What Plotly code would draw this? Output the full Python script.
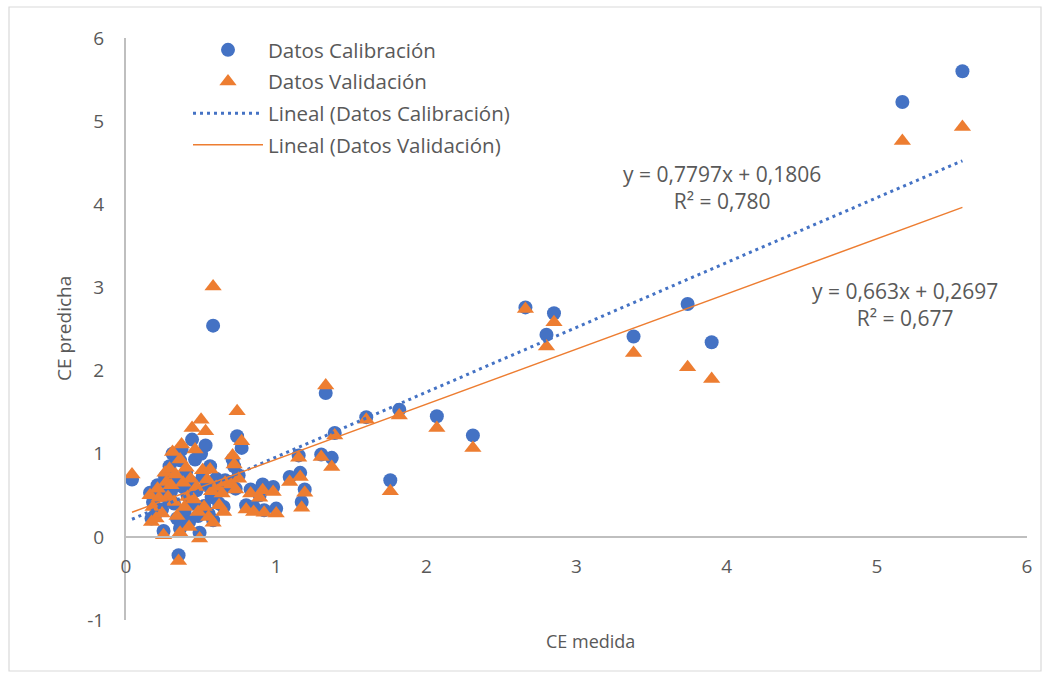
import plotly.graph_objects as go

# --- data -------------------------------------------------------------
# CE medida (shared by both series) with the calibration and validation predictions
ce_medida = [
    0.04, 0.16, 0.17, 0.18, 0.20, 0.21, 0.22, 0.24, 0.25, 0.26, 0.27, 0.28, 0.29,
    0.30, 0.31, 0.32, 0.33, 0.34, 0.35, 0.36, 0.36, 0.37, 0.38, 0.39, 0.40, 0.41,
    0.42, 0.43, 0.44, 0.45, 0.46, 0.47, 0.48, 0.49, 0.50, 0.51, 0.52, 0.53, 0.54,
    0.55, 0.56, 0.57, 0.58, 0.58, 0.60, 0.62, 0.64, 0.65, 0.66, 0.70, 0.71, 0.72,
    0.73, 0.74, 0.75, 0.77, 0.80, 0.83, 0.85, 0.89, 0.91, 0.92, 0.98, 1.00, 1.09,
    1.15, 1.16, 1.17, 1.19, 1.30, 1.33, 1.37, 1.39, 1.60, 1.76, 1.82, 2.07, 2.31,
    2.66, 2.80, 2.85, 3.38, 3.74, 3.90, 5.17, 5.57,
]
ce_pred_calibracion = [
    0.69, 0.53, 0.22, 0.42, 0.28, 0.62, 0.52, 0.33, 0.07, 0.72, 0.60, 0.46, 0.85,
    0.55, 1.00, 0.40, 0.70, 0.22, -0.22, 0.92, 0.10, 1.05, 0.60, 0.30, 0.78, 0.50,
    0.18, 0.66, 1.17, 0.40, 0.93, 0.56, 0.25, 0.05, 1.00, 0.72, 0.37, 1.10, 0.62,
    0.28, 0.85, 0.48, 0.20, 2.54, 0.70, 0.40, 0.56, 0.36, 0.68, 0.66, 0.93, 0.85,
    0.58, 1.21, 0.74, 1.07, 0.38, 0.57, 0.36, 0.50, 0.63, 0.32, 0.60, 0.34, 0.72,
    0.98, 0.77, 0.42, 0.57, 0.99, 1.73, 0.95, 1.25, 1.44, 0.68, 1.53, 1.45, 1.22,
    2.76, 2.43, 2.69, 2.41, 2.80, 2.34, 5.23, 5.60,
]
ce_pred_validacion = [
    0.75, 0.50, 0.18, 0.36, 0.22, 0.58, 0.47, 0.28, 0.02, 0.77, 0.66, 0.48, 0.82,
    0.62, 1.02, 0.42, 0.75, 0.25, -0.29, 0.93, 0.05, 1.11, 0.65, 0.36, 0.83, 0.48,
    0.12, 0.70, 1.31, 0.45, 1.05, 0.60, 0.30, -0.02, 1.41, 0.80, 0.36, 1.27, 0.69,
    0.24, 0.81, 0.55, 0.17, 3.01, 0.60, 0.38, 0.52, 0.30, 0.65, 0.63, 0.98, 0.87,
    0.57, 1.51, 0.70, 1.15, 0.33, 0.52, 0.30, 0.47, 0.56, 0.29, 0.54, 0.28, 0.66,
    0.95, 0.72, 0.35, 0.53, 0.96, 1.82, 0.84, 1.22, 1.41, 0.55, 1.46, 1.31, 1.07,
    2.74, 2.29, 2.58, 2.21, 2.04, 1.90, 4.76, 4.93,
]

# linear trendlines: (slope, intercept, R²)
fit_calibracion = (0.7797, 0.1806, 0.780)
fit_validacion = (0.663, 0.2697, 0.677)

x_ticks = [0, 1, 2, 3, 4, 5, 6]
y_ticks = [-1, 0, 1, 2, 3, 4, 5, 6]
y_tick_labels = ["-1", "0", "1", "2", "3", "4", "5", "6"]

# --- styling ----------------------------------------------------------
W, H = 1050, 679
ML, MR, MT, MB = 126, 23, 38, 59
BLUE = "#4472C4"
ORANGE = "#ED7D31"
TEXT = "#595959"
AXIS = "#BFBFBF"
FONT = "Open Sans"
FS_LEGEND = 20.5
FS_EQ = 21
FS_TICK = 19
FS_TITLE = 18

plot_w = W - ML - MR
plot_h = H - MT - MB


def px_to_paper_x(px):
    return (px - ML) / plot_w


def px_to_paper_y(py):
    return (H - MB - py) / plot_h


x_lo, x_hi = min(ce_medida), max(ce_medida)

fig = go.Figure()

fig.add_trace(go.Scatter(
    x=ce_medida, y=ce_pred_calibracion, mode="markers",
    name="Datos Calibración", legendgroup="a",
    marker=dict(symbol="circle", size=14, color=BLUE),
))
fig.add_trace(go.Scatter(
    x=ce_medida, y=ce_pred_validacion, mode="markers",
    name="Datos Validación", legendgroup="b",
    marker=dict(symbol="triangle-up", size=15, color=ORANGE),
))

m, b, _ = fit_calibracion
fig.add_trace(go.Scatter(
    x=[x_lo, x_hi], y=[m * x_lo + b, m * x_hi + b], mode="lines",
    name="Lineal (Datos Calibración)", legendgroup="c",
    line=dict(color=BLUE, width=3, dash="3px,4px"),
))
m, b, _ = fit_validacion
fig.add_trace(go.Scatter(
    x=[x_lo, x_hi], y=[m * x_lo + b, m * x_hi + b], mode="lines",
    name="Lineal (Datos Validación)", legendgroup="d",
    line=dict(color=ORANGE, width=1.5),
))

# trendline equations
for fit, (cx, cy) in ((fit_calibracion, (722, 188)), (fit_validacion, (905, 304))):
    slope, icpt, r2 = fit
    eq = f"y = {slope:g}x + {icpt:g}".replace(".", ",")
    r2t = f"R² = {r2:.3f}".replace(".", ",")
    fig.add_annotation(
        x=px_to_paper_x(cx), y=px_to_paper_y(cy), xref="paper", yref="paper",
        xanchor="center", yanchor="middle",
        text=f"{eq}<br>{r2t}", showarrow=False, align="center",
        font=dict(family=FONT, size=FS_EQ, color=TEXT),
    )

# axis titles
fig.add_annotation(
    x=px_to_paper_x(590), y=px_to_paper_y(641), xref="paper", yref="paper",
    xanchor="center", yanchor="middle",
    text="CE medida", showarrow=False,
    font=dict(family=FONT, size=FS_TITLE, color=TEXT),
)
fig.add_annotation(
    x=px_to_paper_x(64), y=px_to_paper_y(329), xref="paper", yref="paper",
    xanchor="center", yanchor="middle",
    text="CE predicha", showarrow=False, textangle=-90,
    font=dict(family=FONT, size=19, color=TEXT),
)

# chart frame
fig.add_shape(
    type="rect", xref="paper", yref="paper",
    x0=px_to_paper_x(9), x1=px_to_paper_x(1041),
    y0=px_to_paper_y(671), y1=px_to_paper_y(7),
    line=dict(color="#D9D9D9", width=1.2), fillcolor="rgba(0,0,0,0)", layer="below",
)

fig.update_layout(
    width=W, height=H,
    margin=dict(l=ML, r=MR, t=MT, b=MB, pad=0),
    paper_bgcolor="white", plot_bgcolor="white",
    font=dict(family=FONT, size=FS_LEGEND, color=TEXT),
    showlegend=True,
    legend=dict(
        x=px_to_paper_x(188), y=px_to_paper_y(30), xanchor="left", yanchor="top",
        bgcolor="rgba(0,0,0,0)", font=dict(family=FONT, size=FS_LEGEND, color=TEXT),
        traceorder="grouped", tracegroupgap=2, itemwidth=70,
    ),
    xaxis=dict(
        range=[0, 6], tickvals=x_ticks, showgrid=False, zeroline=False,
        showline=True, linecolor=AXIS, linewidth=2,
        anchor="free", position=1 / 7, ticks="", ticklabelstandoff=12,
        tickfont=dict(family=FONT, size=FS_TICK, color=TEXT),
    ),
    yaxis=dict(
        range=[-1, 6], tickvals=y_ticks, ticktext=y_tick_labels,
        showgrid=False, zeroline=False,
        showline=True, linecolor=AXIS, linewidth=2, ticks="", ticklabelstandoff=16,
        tickfont=dict(family=FONT, size=FS_TICK, color=TEXT),
    ),
)

fig.write_html("out.html")
